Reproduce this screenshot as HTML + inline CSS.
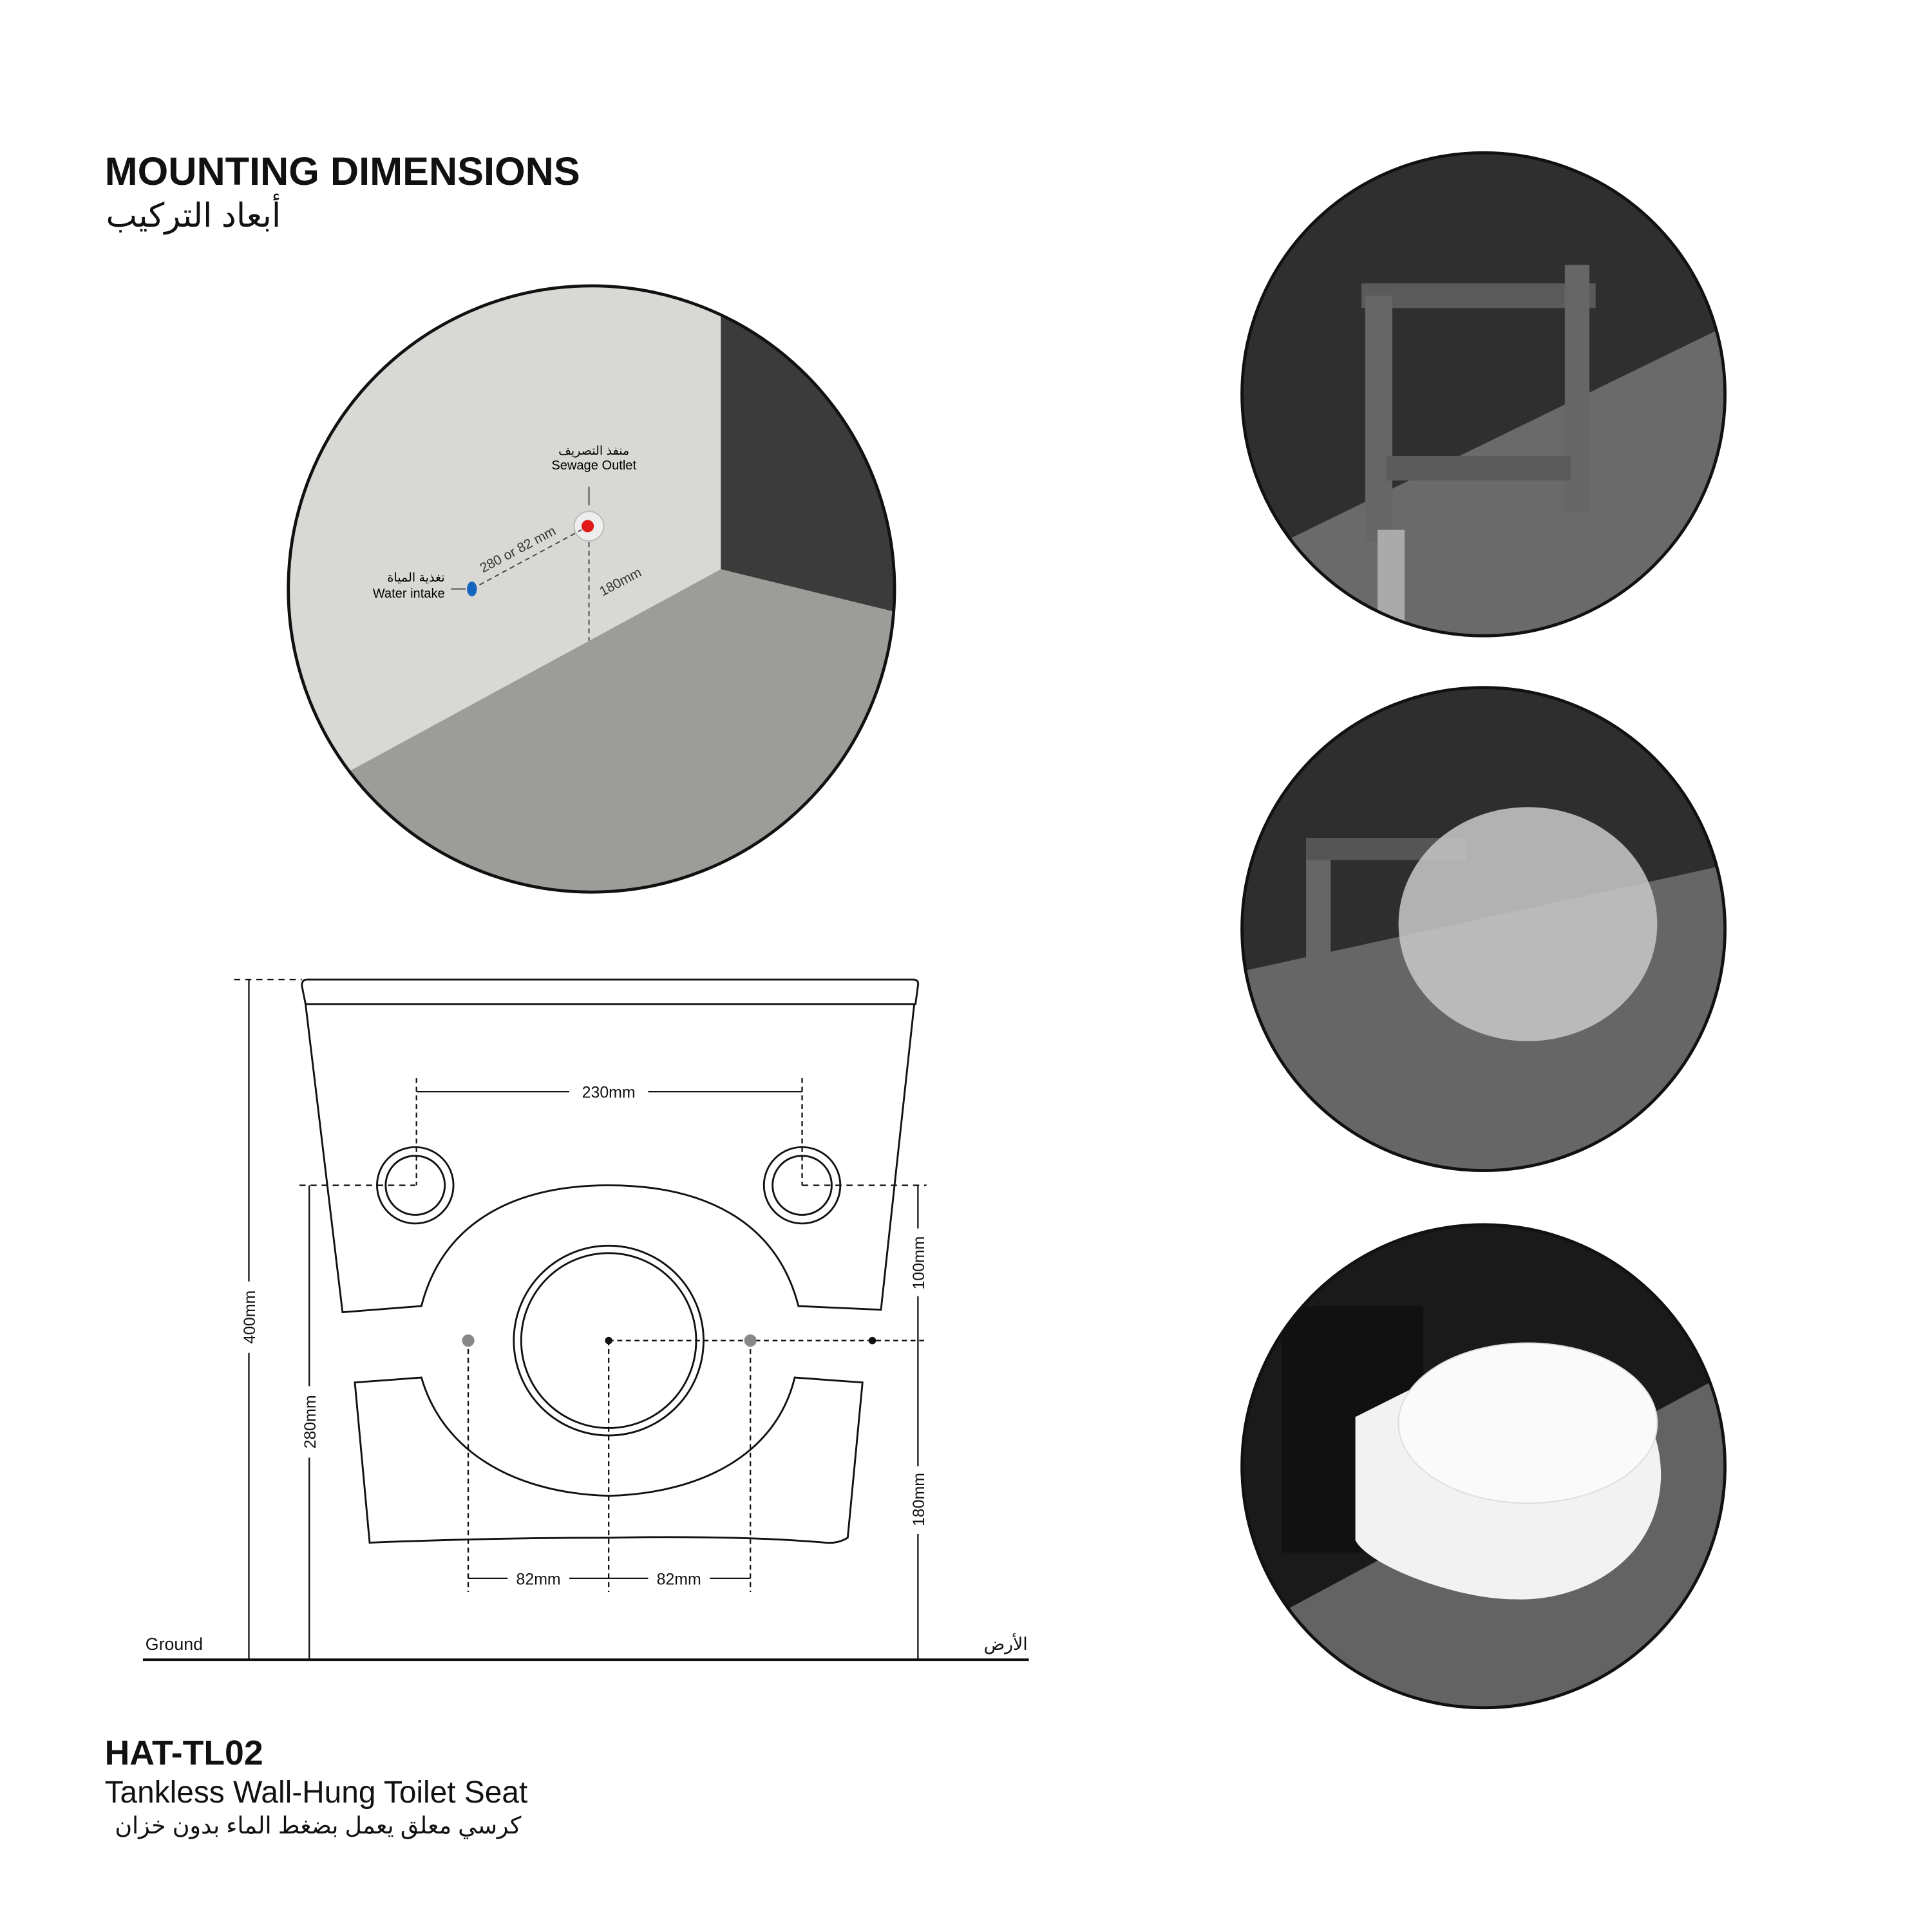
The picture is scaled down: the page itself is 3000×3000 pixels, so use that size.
<!DOCTYPE html>
<html><head><meta charset="utf-8"><style>html,body{margin:0;padding:0;background:#fff}svg{display:block}</style></head>
<body>
<svg width="3000" height="3000" viewBox="0 0 1568 1568" xmlns="http://www.w3.org/2000/svg" font-family="Liberation Sans, Noto Sans CJK SC, sans-serif">
<defs>
<clipPath id="c1"><circle cx="480" cy="478" r="246"/></clipPath>
<clipPath id="c2"><circle cx="1204" cy="320" r="196"/></clipPath>
<clipPath id="c3"><circle cx="1204" cy="754" r="196"/></clipPath>
<clipPath id="c4"><circle cx="1204" cy="1190" r="196"/></clipPath>
</defs>
<text x="85" y="150" font-size="32" font-weight="bold" fill="#111">MOUNTING DIMENSIONS</text>
<text x="228" y="184" font-size="27" fill="#111" text-anchor="end">أبعاد التركيب</text>

<g clip-path="url(#c1)">
<rect x="230" y="230" width="500" height="500" fill="#d8d9d5"/>
<polygon points="585,255 740,255 740,500 585,462" fill="#3b3b3b"/>
<polygon points="585,462 740,500 740,740 230,740 230,655" fill="#9c9d98"/>
</g>
<circle cx="480" cy="478" r="246" fill="none" stroke="#111" stroke-width="2.5"/>
<circle cx="478" cy="427" r="12" fill="#eee" stroke="#bbb"/>
<circle cx="477" cy="427" r="5" fill="#e01919"/>
<line x1="383" y1="478" x2="472" y2="430" stroke="#444" stroke-dasharray="4,3"/>
<line x1="478" y1="440" x2="478" y2="520" stroke="#444" stroke-dasharray="4,3"/>
<line x1="478" y1="395" x2="478" y2="410" stroke="#444"/>
<ellipse cx="383" cy="478" rx="4" ry="6" fill="#1565c0"/>
<line x1="366" y1="478" x2="378" y2="478" stroke="#444"/>
<text x="482" y="369" font-size="10" text-anchor="middle">منفذ التصريف</text>
<text x="482" y="381" font-size="10.5" text-anchor="middle">Sewage Outlet</text>
<text x="361" y="472" font-size="10" text-anchor="end">تغذية المياة</text>
<text x="361" y="485" font-size="10.5" text-anchor="end">Water intake</text>
<text x="0" y="0" font-size="11" fill="#333" transform="translate(392,465) rotate(-28)">280 or 82 mm</text>
<text x="0" y="0" font-size="11" fill="#333" transform="translate(489,484) rotate(-28)">180mm</text>

<g clip-path="url(#c2)"><rect x="1000" y="120" width="410" height="410" fill="#2f2f2f"/>
<polygon points="1000,460 1410,260 1410,530 1000,530" fill="#6a6a6a"/>
<rect x="1105" y="230" width="190" height="20" fill="#5a5a5a"/><rect x="1108" y="240" width="22" height="200" fill="#666"/><rect x="1270" y="215" width="20" height="200" fill="#666"/><rect x="1125" y="370" width="150" height="20" fill="#5a5a5a"/><rect x="1118" y="430" width="22" height="80" fill="#aaa"/></g>
<circle cx="1204" cy="320" r="196" fill="none" stroke="#111" stroke-width="2.5"/>
<g clip-path="url(#c3)"><rect x="1000" y="550" width="410" height="410" fill="#2e2e2e"/>
<polygon points="1000,790 1410,700 1410,960 1000,960" fill="#666"/>
<rect x="1060" y="690" width="20" height="170" fill="#666"/><rect x="1060" y="680" width="130" height="18" fill="#555"/>
<ellipse cx="1240" cy="750" rx="105" ry="95" fill="#c9c9c9" opacity="0.85"/></g>
<circle cx="1204" cy="754" r="196" fill="none" stroke="#111" stroke-width="2.5"/>
<g clip-path="url(#c4)"><rect x="1000" y="990" width="410" height="410" fill="#1a1a1a"/>
<polygon points="1000,1330 1410,1110 1410,1400 1000,1400" fill="#636363"/>
<rect x="1040" y="1060" width="115" height="200" fill="#111"/>
<path d="M1100,1150 L1160,1120 C1250,1080 1350,1110 1348,1200 C1345,1270 1280,1300 1230,1298 C1180,1298 1110,1270 1100,1250 Z" fill="#f2f2f2"/>
<ellipse cx="1240" cy="1155" rx="105" ry="65" fill="#fafafa" stroke="#ddd"/></g>
<circle cx="1204" cy="1190" r="196" fill="none" stroke="#111" stroke-width="2.5"/>

<g fill="none" stroke="#111" stroke-width="1.5">
<path d="M249,795 L741,795 Q746,795 745,800 L743,815 L248,815 L245,800 Q245,795 249,795 Z"/>
<path d="M248,815 L278,1065 L342,1060 C360,990 420,962 494,962 C570,962 630,990 648,1060 L715,1063 L742,815"/>
<path d="M288,1122 L342,1118 C360,1180 420,1212 494,1214 C570,1212 630,1180 645,1118 L700,1122 L688,1248 Q680,1253 670,1252 Q600,1246 494,1248 Q400,1248 300,1252 Z"/>
<circle cx="494" cy="1088" r="77"/><circle cx="494" cy="1088" r="71"/>
<circle cx="337" cy="962" r="31"/><circle cx="337" cy="962" r="24"/>
<circle cx="651" cy="962" r="31"/><circle cx="651" cy="962" r="24"/>
</g>
<g stroke="#111" stroke-width="1.2" fill="none">
<line x1="116" y1="1347" x2="835" y2="1347" stroke-width="2"/>
<line x1="190" y1="795" x2="245" y2="795" stroke-dasharray="5,4"/>
<line x1="202" y1="795" x2="202" y2="1347"/>
<line x1="243" y1="962" x2="337" y2="962" stroke-dasharray="5,4"/>
<line x1="651" y1="962" x2="752" y2="962" stroke-dasharray="5,4"/>
<line x1="251" y1="962" x2="251" y2="1347"/>
<line x1="745" y1="962" x2="745" y2="1347"/>
<line x1="494" y1="1088" x2="752" y2="1088" stroke-dasharray="4,3"/>
<line x1="338" y1="875" x2="338" y2="962" stroke-dasharray="4,3"/>
<line x1="651" y1="875" x2="651" y2="962" stroke-dasharray="4,3"/>
<line x1="338" y1="886" x2="462" y2="886"/><line x1="526" y1="886" x2="651" y2="886"/>
<line x1="380" y1="1088" x2="380" y2="1292" stroke-dasharray="4,3"/>
<line x1="494" y1="1088" x2="494" y2="1292" stroke-dasharray="4,3"/>
<line x1="609" y1="1088" x2="609" y2="1292" stroke-dasharray="4,3"/>
<line x1="380" y1="1281" x2="412" y2="1281"/><line x1="462" y1="1281" x2="526" y2="1281"/><line x1="576" y1="1281" x2="609" y2="1281"/>
</g>
<rect x="195" y="1040" width="14" height="58" fill="#fff"/>
<rect x="244" y="1125" width="14" height="58" fill="#fff"/>
<rect x="738" y="997" width="14" height="55" fill="#fff"/>
<rect x="738" y="1190" width="14" height="55" fill="#fff"/>
<circle cx="380" cy="1088" r="5" fill="#888"/><circle cx="609" cy="1088" r="5" fill="#888"/>
<circle cx="494" cy="1088" r="3" fill="#111"/><circle cx="708" cy="1088" r="3" fill="#111"/>
<g font-size="13" fill="#111">
<text x="494" y="891" text-anchor="middle">230mm</text>
<text x="437" y="1286" text-anchor="middle">82mm</text>
<text x="551" y="1286" text-anchor="middle">82mm</text>
<text transform="translate(207,1069) rotate(-90)" text-anchor="middle">400mm</text>
<text transform="translate(256,1154) rotate(-90)" text-anchor="middle">280mm</text>
<text transform="translate(750,1025) rotate(-90)" text-anchor="middle">100mm</text>
<text transform="translate(750,1217) rotate(-90)" text-anchor="middle">180mm</text>
<text x="118" y="1339" font-size="14">Ground</text>
<text x="834" y="1339" font-size="14" text-anchor="end">الأرض</text>
</g>
<text x="85" y="1432" font-size="28" font-weight="bold" fill="#111">HAT-TL02</text>
<text x="85" y="1463" font-size="25" fill="#111">Tankless Wall-Hung Toilet Seat</text>
<text x="423" y="1488" font-size="19" fill="#111" text-anchor="end">كرسي معلق يعمل بضغط الماء بدون خزان</text>
</svg>
</body></html>
